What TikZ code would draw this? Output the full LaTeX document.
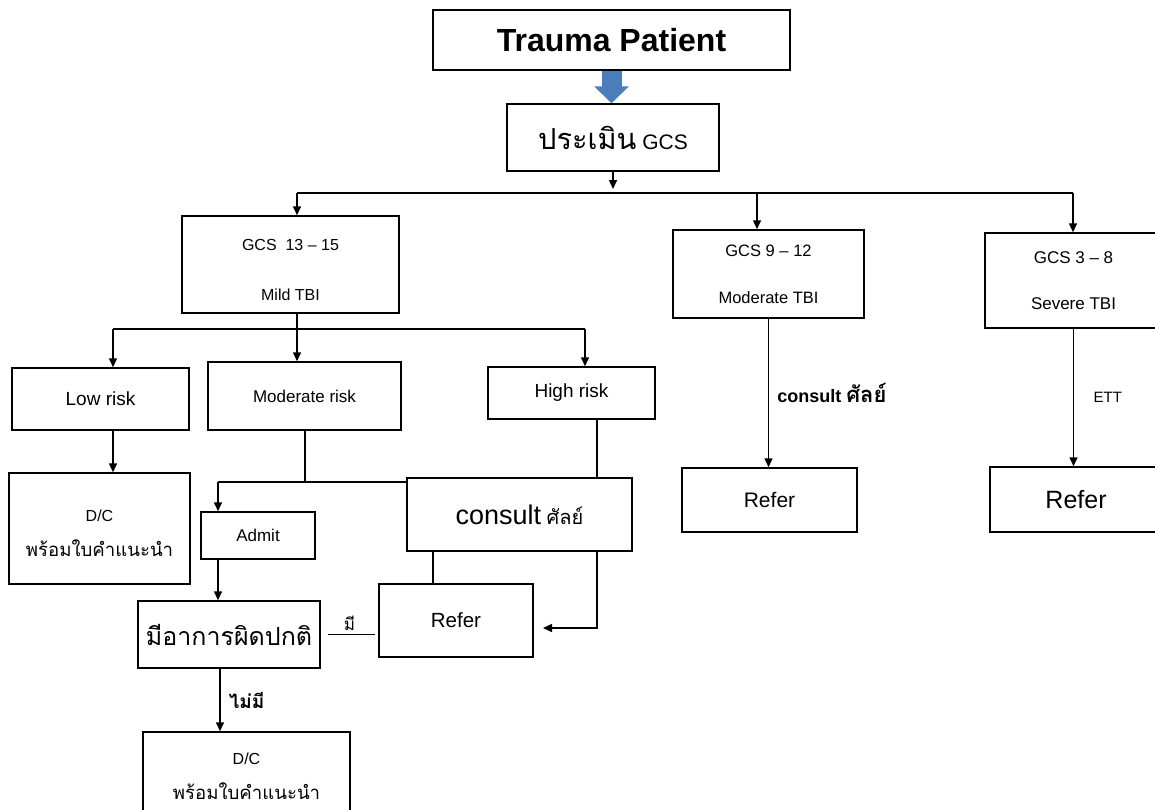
\documentclass[tikz,border=0pt]{standalone}
\usepackage{fontspec}
\setmainfont{Liberation Sans}
\newfontfamily\thai[Script=Thai]{Loma}
\usetikzlibrary{arrows.meta}
\definecolor{arrowblue}{HTML}{4A7EBB}
\newcommand{\fs}[2][]{\fontsize{#2}{#1#2}\selectfont}
\newcommand{\lift}[1]{\rule{0pt}{#1}}
\begin{document}
\begin{tikzpicture}[x=1pt,y=-1pt,line width=1.5pt,
  box/.style={draw,inner sep=0pt,align=center},
  arr/.style={-{Triangle[length=9pt,width=8pt]}}]
	\useasboundingbox (0,0) rectangle (1155,809);
	
	%top
	\node[box,minimum width=357pt,minimum height=60pt,font=\bfseries\fs{32}] (trauma) at (611.5,40) {Trauma Patient};
	\node[box,minimum width=212pt,minimum height=67pt,font=\fs{21}] (gcs) at (613,137.5) {{\thai\fs{29}ประเมิน} GCS};
	\draw[line width=20pt,arrowblue,-{Triangle[length=17pt,width=34pt]}] (trauma.south) -- (trauma.south |- gcs.north); %big arrow
	
	%GCS groups
	\node[box,minimum width=217pt,minimum height=97pt,font=\fontsize{16}{50}\selectfont] (mild) at (290.5,264.5) {\lift{21.5pt}GCS\ \ 13 – 15\\Mild TBI};
	\node[box,minimum width=191pt,minimum height=88pt,font=\fontsize{16.5}{47}\selectfont] (modtbi) at (768.5,274) {GCS 9 – 12\\Moderate TBI};
	\node[box,minimum width=177pt,minimum height=95pt,font=\fontsize{17}{46}\selectfont] (severe) at (1073.5,280.5) {GCS 3 – 8\\Severe TBI};
	
	%risk
	\node[box,minimum width=177pt,minimum height=62pt,font=\fs{19}] (lowrisk) at (100.5,399) {Low risk};
	\node[box,minimum width=193pt,minimum height=68pt,font=\fs{17}] (modrisk) at (304.5,396) {Moderate risk};
	\node[box,minimum width=167pt,minimum height=52pt,font=\fs{19}] (highrisk) at (571.5,393) {High risk};
	
	%lower boxes
	\node[box,minimum width=181pt,minimum height=111pt,font=\fontsize{16}{35}\selectfont] (dc1) at (99.5,528.5) {\lift{22pt}D/C\\{\thai\fs{18.6}พร้อมใบคำแนะนำ}};
	\node[box,minimum width=225pt,minimum height=73pt,font=\fs{20}] (consult) at (519.5,514.5) {{\fs{27}consult} {\thai ศัลย์}};
	\node[box,minimum width=114pt,minimum height=47pt,font=\fs{17}] (admit) at (258,535.5) {Admit};
	\node[box,minimum width=154pt,minimum height=73pt,font=\fs{20.5}] (refer1) at (456,620.5) {Refer};
	\node[box,minimum width=182pt,minimum height=67pt,font=\thai\fs{25}] (abnormal) at (229,634.5) {มีอาการผิดปกติ};
	\node[box,minimum width=207pt,minimum height=84pt,font=\fontsize{16}{35}\selectfont] (dc2) at (246.5,774) {\lift{16pt}D/C\\{\thai\fs{18.6}พร้อมใบคำแนะนำ}};
	\node[box,minimum width=175pt,minimum height=64pt,font=\fs{21}] (refer2) at (769.5,500) {Refer};
	\node[box,minimum width=172pt,minimum height=65pt,font=\fs{25}] (refer3) at (1076,499.5) {Refer};
	
	%branch points
	\coordinate (b0) at (613,193);
	\coordinate (b1) at (297,193);
	\coordinate (b2) at (757,193);
	\coordinate (b3) at (1073,193);
	\coordinate (c1) at (113,329);
	\coordinate (c2) at (297,329);
	\coordinate (c3) at (585,329);
	\coordinate (m1) at (305,482);
	\coordinate (m2) at (218,482);
	\coordinate (h1) at (597,628);
	\coordinate (h2) at (543,628);
	\coordinate (k1) at (433,551);
	\coordinate (n1) at (220,700);
	
	%top bus
	\draw[arr,shorten >=4pt] (gcs.south) -- (b0);
	\draw (b1) -- (b3);
	\draw[arr] (b1) -- (b1 |- mild.north);
	\draw[arr] (b2) -- (b2 |- modtbi.north);
	\draw[arr] (b3) -- (b3 |- severe.north);
	
	%mild branch
	\draw (c2 |- mild.south) -- (c2);
	\draw (c1) -- (c3);
	\draw[arr] (c1) -- (c1 |- lowrisk.north);
	\draw[arr] (c2) -- (c2 |- modrisk.north);
	\draw[arr] (c3) -- (c3 |- highrisk.north);
	\draw[arr] (c1 |- lowrisk.south) -- (c1 |- dc1.north);
	
	\draw (m1 |- modrisk.south) -- (m1);
	\draw (m2) -- (m2 -| consult.west);
	\draw[arr] (m2) -- (m2 |- admit.north);
	\draw[arr] (m2 |- admit.south) -- (m2 |- abnormal.north);
	
	\draw (h1 |- highrisk.south) -- (h1 |- consult.north);
	\draw[arr] (h1 |- consult.south) -- (h1) -- (h2);
	\draw (k1) -- (k1 |- refer1.north);
	
	\draw[shorten <=7pt,shorten >=3pt] (abnormal.east) -- node[above,font=\thai\fs{17}] {มี} (abnormal.east -| refer1.west);
	\draw[arr] (abnormal.south -| n1) -- node[right,inner sep=8pt,font=\thai\bfseries\fs{19}] {ไม่มี} (dc2.north -| n1);
	
	%right side
	\draw[arr] (modtbi.south) -- node[right,inner sep=8pt,font=\bfseries\fs{18}] {consult {\thai\fs{22}ศัลย์}} (modtbi.south |- refer2.north);
	\draw[arr] (severe.south) -- node[right=16pt,font=\fs{15}] {ETT} (severe.south |- refer3.north);
	
\end{tikzpicture}
\end{document}
